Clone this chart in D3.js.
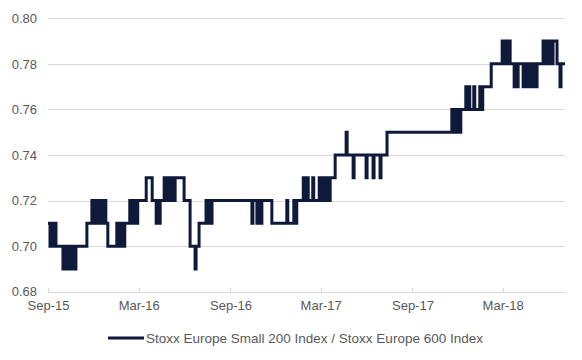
<!DOCTYPE html>
<html>
<head>
<meta charset="utf-8">
<script src="https://cdn.jsdelivr.net/npm/d3@7"></script>
<style>
  html, body { margin: 0; padding: 0; background: #ffffff; }
  svg { display: block; font-family: "Liberation Sans", Arial, sans-serif; }
</style>
</head>
<body>
<svg id="chart" width="582" height="360"></svg>
<script>
// ---- Data (change points of the ratio, step series) ----
const dates = [
  "2015-09-01","2015-09-05","2015-09-07","2015-09-11","2015-09-13","2015-09-17",
  "2015-10-01","2015-10-05","2015-10-07","2015-10-11","2015-10-13","2015-10-17","2015-10-19","2015-10-23","2015-10-25","2015-10-27",
  "2015-11-18","2015-11-28","2015-11-30","2015-12-02","2015-12-06","2015-12-08","2015-12-12","2015-12-18","2015-12-20","2015-12-22","2015-12-26","2015-12-30",
  "2016-01-17","2016-01-19","2016-01-23","2016-01-25","2016-01-29","2016-01-31","2016-02-02",
  "2016-02-12","2016-02-14","2016-02-18","2016-02-20","2016-02-24","2016-02-26","2016-02-28",
  "2016-03-16","2016-03-28","2016-04-05","2016-04-07","2016-04-09","2016-04-13",
  "2016-04-21","2016-04-23","2016-04-25","2016-04-29","2016-05-01","2016-05-05","2016-05-07","2016-05-11","2016-05-13",
  "2016-05-31","2016-06-12","2016-06-22","2016-06-24","2016-06-30",
  "2016-07-14","2016-07-16","2016-07-22","2016-07-24","2016-07-26",
  "2016-10-14","2016-10-16","2016-10-24","2016-10-26","2016-11-01","2016-11-03",
  "2016-11-23","2016-12-23","2016-12-25","2017-01-06","2017-01-08","2017-01-12",
  "2017-01-25","2017-01-27","2017-02-02","2017-02-04","2017-02-13","2017-02-15",
  "2017-02-26","2017-02-28","2017-03-06","2017-03-08","2017-03-14","2017-03-16","2017-03-20",
  "2017-03-30","2017-04-21","2017-04-23","2017-05-05","2017-05-07","2017-05-31","2017-06-02","2017-06-14","2017-06-16","2017-06-28","2017-06-30",
  "2017-07-12",
  "2017-11-19","2017-11-21","2017-11-25","2017-11-27","2017-12-01","2017-12-03","2017-12-07",
  "2017-12-17","2017-12-19","2017-12-23","2017-12-25","2018-01-02","2018-01-04","2018-01-14","2018-01-16","2018-01-20",
  "2018-02-06","2018-02-28","2018-03-04","2018-03-06","2018-03-10","2018-03-12","2018-03-16",
  "2018-03-24","2018-03-26","2018-03-28","2018-04-01",
  "2018-04-11","2018-04-13","2018-04-17","2018-04-21","2018-04-23","2018-04-27","2018-04-29","2018-05-05","2018-05-07","2018-05-09",
  "2018-05-21","2018-05-25","2018-05-27","2018-06-02","2018-06-04","2018-06-08","2018-06-10",
  "2018-06-18","2018-06-24","2018-06-26","2018-07-04"
];
const values = [
  0.71,0.70,0.71,0.70,0.71,0.70,
  0.69,0.70,0.69,0.70,0.69,0.70,0.69,0.70,0.69,0.70,
  0.71,0.72,0.71,0.72,0.71,0.72,0.71,0.72,0.71,0.72,0.71,0.70,
  0.71,0.70,0.71,0.70,0.71,0.70,0.71,
  0.72,0.71,0.72,0.71,0.72,0.71,0.72,
  0.73,0.72,0.71,0.72,0.71,0.72,
  0.73,0.72,0.73,0.72,0.73,0.72,0.73,0.72,0.73,
  0.72,0.70,0.69,0.70,0.71,
  0.72,0.71,0.72,0.71,0.72,
  0.71,0.72,0.71,0.72,0.71,0.72,
  0.71,0.72,0.71,0.72,0.71,0.72,
  0.73,0.72,0.73,0.72,0.73,0.72,
  0.73,0.72,0.73,0.72,0.73,0.72,0.73,
  0.74,0.75,0.74,0.73,0.74,0.73,0.74,0.73,0.74,0.73,0.74,
  0.75,
  0.76,0.75,0.76,0.75,0.76,0.75,0.76,
  0.77,0.76,0.77,0.76,0.77,0.76,0.77,0.76,0.77,
  0.78,0.79,0.78,0.79,0.78,0.79,0.78,
  0.77,0.78,0.77,0.78,
  0.77,0.78,0.77,0.78,0.77,0.78,0.77,0.78,0.77,0.78,
  0.79,0.78,0.79,0.78,0.79,0.78,0.79,
  0.78,0.77,0.78,0.78
];
const seriesName = "Stoxx Europe Small 200 Index / Stoxx Europe 600 Index";
const xTickDates = ["2015-09-01","2016-03-01","2016-09-01","2017-03-01","2017-09-01","2018-03-01"];
const xTickLabels = ["Sep-15","Mar-16","Sep-16","Mar-17","Sep-17","Mar-18"];
const yTicks = [0.68, 0.70, 0.72, 0.74, 0.76, 0.78, 0.80];
const xDomain = ["2015-09-01", "2018-07-04"];

// ---- Drawing ----
const parse = d3.timeParse("%Y-%m-%d");
const data = dates.map((d, i) => ({ date: parse(d), value: values[i] }));

const svg = d3.select("#chart");
const x = d3.scaleTime().domain(xDomain.map(parse)).range([48, 565]);
const y = d3.scaleLinear().domain([0.68, 0.80]).range([291.7, 18.3]);

const gridColor = "#d9d9d9";
const textColor = "#595959";
const font = "Liberation Sans, Arial, sans-serif";

// horizontal gridlines + y labels
const yAxis = d3.axisLeft(y).tickValues(yTicks).tickFormat(d3.format(".2f"))
  .tickSize(-(565 - 48)).tickPadding(11);
const gy = svg.append("g").attr("transform", "translate(48,0)").call(yAxis);
gy.select(".domain").remove();
gy.selectAll(".tick line").attr("stroke", gridColor).attr("stroke-width", 1)
  .attr("shape-rendering", "crispEdges");
gy.selectAll(".tick text").attr("fill", textColor).attr("font-size", 13)
  .attr("font-family", font);

// x axis
const xAxis = d3.axisBottom(x).tickValues(xTickDates.map(parse))
  .tickFormat((d, i) => xTickLabels[i]).tickSizeInner(-4).tickSizeOuter(0).tickPadding(9);
const gx = svg.append("g").attr("transform", `translate(0,${y(0.68)})`).call(xAxis);
gx.select(".domain").attr("stroke", gridColor).attr("shape-rendering", "crispEdges");
gx.selectAll(".tick line").attr("stroke", gridColor).attr("shape-rendering", "crispEdges");
gx.selectAll(".tick text").attr("fill", textColor).attr("font-size", 13)
  .attr("font-family", font);

// the line
const lineColor = "#0f1a3b";
const line = d3.line().curve(d3.curveStepAfter).x(d => x(d.date)).y(d => y(d.value));
svg.append("path").datum(data).attr("d", line)
  .attr("fill", "none").attr("stroke", lineColor).attr("stroke-width", 3)
  .attr("stroke-linejoin", "miter");

// legend
const lg = svg.append("g").attr("transform", "translate(0,338)");
lg.append("line").attr("x1", 108).attr("x2", 144).attr("y1", 0).attr("y2", 0)
  .attr("stroke", lineColor).attr("stroke-width", 3);
lg.append("text").attr("x", 146).attr("y", 0).attr("dy", "0.35em")
  .attr("fill", textColor).attr("font-size", 13.5)
  .attr("font-family", font)
  .text(seriesName);
</script>
</body>
</html>
